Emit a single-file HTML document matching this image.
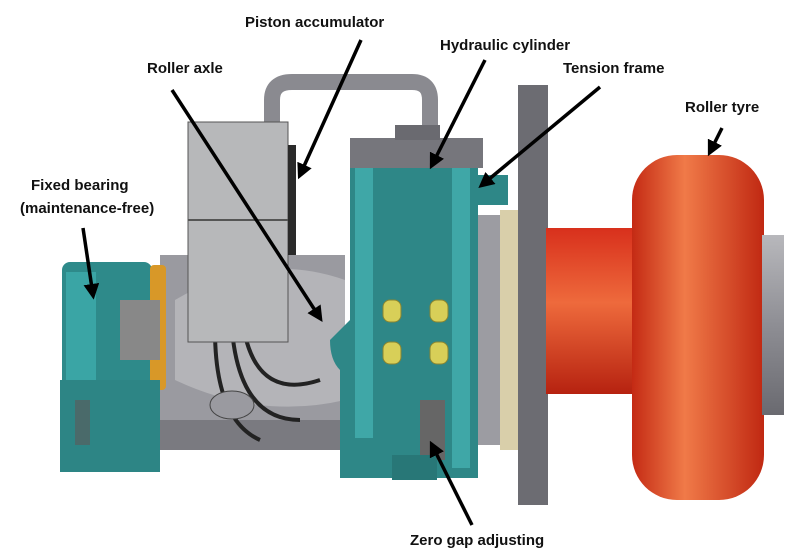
<!DOCTYPE html>
<html><head><meta charset="utf-8"><style>
html,body{margin:0;padding:0;background:#fff;}
svg{display:block;}
text{font-family:"Liberation Sans",sans-serif;font-size:15px;font-weight:bold;fill:#111;}
</style></head><body>
<svg width="800" height="558" viewBox="0 0 800 558" xmlns="http://www.w3.org/2000/svg">
<defs>
<linearGradient id="red" x1="0" y1="0" x2="0" y2="1">
<stop offset="0" stop-color="#d8301c"/><stop offset="0.45" stop-color="#ee6a3c"/><stop offset="1" stop-color="#b62210"/></linearGradient>
<linearGradient id="redh" x1="0" y1="0" x2="1" y2="0">
<stop offset="0" stop-color="#c42a14"/><stop offset="0.4" stop-color="#f07a48"/><stop offset="1" stop-color="#c02812"/></linearGradient>
<linearGradient id="gry" x1="0" y1="0" x2="0" y2="1">
<stop offset="0" stop-color="#b8b8bc"/><stop offset="0.5" stop-color="#8e8e94"/><stop offset="1" stop-color="#6a6a70"/></linearGradient>
<marker id="ah" viewBox="0 0 10 10" refX="7" refY="5" markerWidth="4.5" markerHeight="4.5" orient="auto">
<path d="M0,0 L10,5 L0,10 z" fill="#000"/></marker>
</defs>
<path d="M272,122 V100 Q272,82 292,82 H412 Q430,82 430,100 V135" fill="none" stroke="#8a8a90" stroke-width="16"/>
<path d="M160,255 H345 V420 H160 Z" fill="#9a9aa0"/>
<path d="M175,300 Q260,250 345,280 V400 Q260,420 175,380 Z" fill="#b4b4b8"/>
<rect x="160" y="420" width="200" height="30" fill="#7a7a80"/>
<path d="M215,330 Q215,420 260,440 M232,330 Q240,420 300,420 M245,335 Q260,400 320,380" fill="none" stroke="#222" stroke-width="4"/>
<ellipse cx="232" cy="405" rx="22" ry="14" fill="#9a9aa0" stroke="#444"/>
<rect x="188" y="122" width="100" height="220" fill="#b7b8ba" stroke="#555" stroke-width="1"/>
<line x1="188" y1="220" x2="288" y2="220" stroke="#555" stroke-width="2"/>
<rect x="288" y="145" width="8" height="110" fill="#2a2a2a"/>
<rect x="62" y="262" width="90" height="130" rx="8" fill="#2e8a8a"/>
<rect x="66" y="272" width="30" height="110" fill="#3aa5a5"/>
<rect x="150" y="265" width="16" height="125" rx="4" fill="#d89828"/>
<rect x="60" y="380" width="100" height="92" fill="#2d8585"/>
<rect x="75" y="400" width="15" height="45" fill="#4a6a6a"/>
<rect x="120" y="300" width="40" height="60" fill="#888"/>
<path d="M350,168 H478 V478 H340 V370 Q330,360 330,340 L350,320 Z" fill="#2e8787"/>
<rect x="355" y="168" width="18" height="270" fill="#3fa7a7"/>
<rect x="452" y="168" width="18" height="300" fill="#3fa7a7"/>
<rect x="350" y="138" width="133" height="30" fill="#76767c"/>
<rect x="395" y="125" width="45" height="15" fill="#6a6a70"/>
<rect x="420" y="400" width="25" height="60" fill="#666"/>
<rect x="392" y="455" width="45" height="25" fill="#287777"/>
<g fill="#d8cf58" stroke="#8a8530"><rect x="383" y="300" width="18" height="22" rx="7"/><rect x="430" y="300" width="18" height="22" rx="7"/><rect x="383" y="342" width="18" height="22" rx="7"/><rect x="430" y="342" width="18" height="22" rx="7"/></g>
<rect x="478" y="215" width="30" height="230" fill="#9c9ca2"/>
<rect x="500" y="210" width="22" height="240" fill="#d9cfaa"/>
<rect x="518" y="85" width="30" height="420" fill="#6c6c72"/>
<rect x="478" y="175" width="30" height="30" fill="#2e8787"/>
<rect x="546" y="228" width="92" height="166" fill="url(#red)"/>
<rect x="632" y="155" width="132" height="345" rx="45" fill="url(#redh)"/>
<rect x="762" y="235" width="22" height="180" fill="url(#gry)"/>
<text x="245" y="27">Piston accumulator</text>
<text x="147" y="73">Roller axle</text>
<text x="440" y="50">Hydraulic cylinder</text>
<text x="563" y="73">Tension frame</text>
<text x="685" y="112">Roller tyre</text>
<text x="31" y="190">Fixed bearing</text>
<text x="20" y="213">(maintenance-free)</text>
<text x="410" y="545">Zero gap adjusting</text>
<g stroke="#000" stroke-width="3.5" marker-end="url(#ah)">
<line x1="361" y1="40" x2="300" y2="175"/>
<line x1="485" y1="60" x2="432" y2="165"/>
<line x1="172" y1="90" x2="320" y2="318"/>
<line x1="600" y1="87" x2="482" y2="185"/>
<line x1="722" y1="128" x2="710" y2="152"/>
<line x1="83" y1="228" x2="93" y2="295"/>
<line x1="472" y1="525" x2="432" y2="445"/>
</g>
</svg>
</body></html>
